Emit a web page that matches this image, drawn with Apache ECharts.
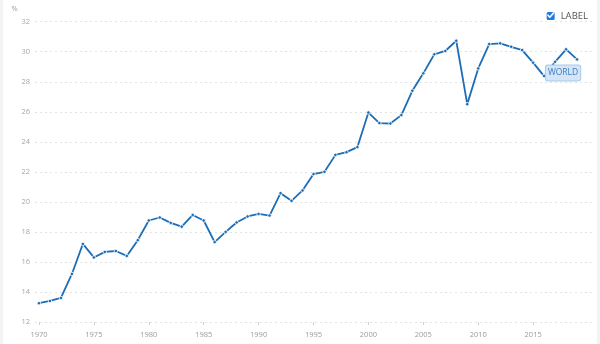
<!DOCTYPE html>
<html>
<head>
<meta charset="utf-8">
<script src="https://cdn.jsdelivr.net/npm/echarts@6/dist/echarts.min.js"></script>
<style>
html,body{margin:0;padding:0;background:#f2f3f5;}
#c{position:absolute;left:3px;top:0;width:594px;height:344px;background:#fff;}
</style>
</head>
<body>
<div id="c"></div>
<script>
var years = [1970,1971,1972,1973,1974,1975,1976,1977,1978,1979,
             1980,1981,1982,1983,1984,1985,1986,1987,1988,1989,
             1990,1991,1992,1993,1994,1995,1996,1997,1998,1999,
             2000,2001,2002,2003,2004,2005,2006,2007,2008,2009,
             2010,2011,2012,2013,2014,2015,2016,2017,2018,2019];
var values = [13.25,13.4,13.6,15.2,17.2,16.3,16.67,16.73,16.4,17.45,
              18.76,18.96,18.6,18.35,19.13,18.76,17.32,18.0,18.63,19.03,
              19.2,19.09,20.58,20.07,20.76,21.85,22.0,23.13,23.31,23.65,
              25.95,25.25,25.22,25.78,27.4,28.56,29.83,30.05,30.73,26.51,
              28.89,30.51,30.56,30.33,30.11,29.27,28.38,29.33,30.16,29.49];
var xTicks = [1970,1975,1980,1985,1990,1995,2000,2005,2010,2015];
var seriesName = 'LABEL';
var endLabelText = 'WORLD';
var yUnit = '%';

var data = years.map(function(y,i){
  var d = {value:[y, values[i]]};
  if (i === years.length-1) {
    d.label = {show:true, formatter: endLabelText};
  }
  return d;
});

var legendFont = 9.5;
var cv = document.createElement('canvas').getContext('2d');
cv.font = legendFont + 'px "Open Sans"';
var tw = cv.measureText(seriesName).width;
var legendRight = 9;
var textEnd = 594 - legendRight;
var iconX = textEnd - tw - 5 - 10;
var iconY = 10;

var chart = echarts.init(document.getElementById('c'), null, {renderer:'canvas'});
chart.setOption({
  animation:false,
  textStyle:{fontFamily:'Open Sans'},
  grid:{left:32, right:5, top:21.7, bottom:22, containLabel:false},
  legend:{
    show:true,
    right:legendRight, top:iconY, padding:0,
    icon:'roundRect',
    itemWidth:10, itemHeight:10, itemGap:4,
    data:[{name:seriesName, itemStyle:{color:'#1e7be0'}}],
    textStyle:{color:'#555', fontSize:legendFont, fontFamily:'Open Sans'}
  },
  graphic:[{
    type:'polyline', silent:true, z:100,
    shape:{points:[[iconX+2.3, iconY+5.2],[iconX+4.2, iconY+7.2],[iconX+7.8, iconY+3]]},
    style:{stroke:'#ffffff', lineWidth:1.6, fill:null, lineCap:'round', lineJoin:'round'}
  }],
  xAxis:{
    type:'value', min:1969.64, max:2020.36,
    axisLine:{show:false},
    splitLine:{show:false},
    axisTick:{show:true, customValues:xTicks, length:3, lineStyle:{color:'#cfcfcf'}},
    axisLabel:{customValues:xTicks, color:'#9a9a9a', fontSize:7.5, margin:9, formatter:function(v){return String(v);}}
  },
  yAxis:{
    type:'value', min:12, max:32, interval:2,
    name: yUnit, nameLocation:'end', nameGap:9,
    nameTextStyle:{color:'#999', fontSize:7.5, align:'center', padding:[0,41,0,0]},
    axisLine:{show:false}, axisTick:{show:false},
    axisLabel:{color:'#a6a6a6', fontSize:7.5, margin:5},
    splitLine:{show:true, lineStyle:{color:'#e2e2e2', type:[2,3], width:1}}
  },
  series:[{
    name:seriesName, type:'line', data:data,
    showSymbol:true, showAllSymbol:true,
    symbol:'circle', symbolSize:3.5,
    itemStyle:{color:'#1c6db5', borderColor:'#ffffff', borderWidth:0.8},
    lineStyle:{color:'#1c6db5', width:1.8},
    label:{
      show:false, position:'bottom', distance:4, offset:[-14,0],
      color:'#3b7dc4', fontSize:8.5, fontFamily:'Open Sans',
      backgroundColor:'#d3e5f6', borderColor:'#a9c9ea', borderWidth:1, borderRadius:2,
      padding:[3,2,3,2]
    },
    emphasis:{disabled:true}
  }]
});
</script>
</body>
</html>
